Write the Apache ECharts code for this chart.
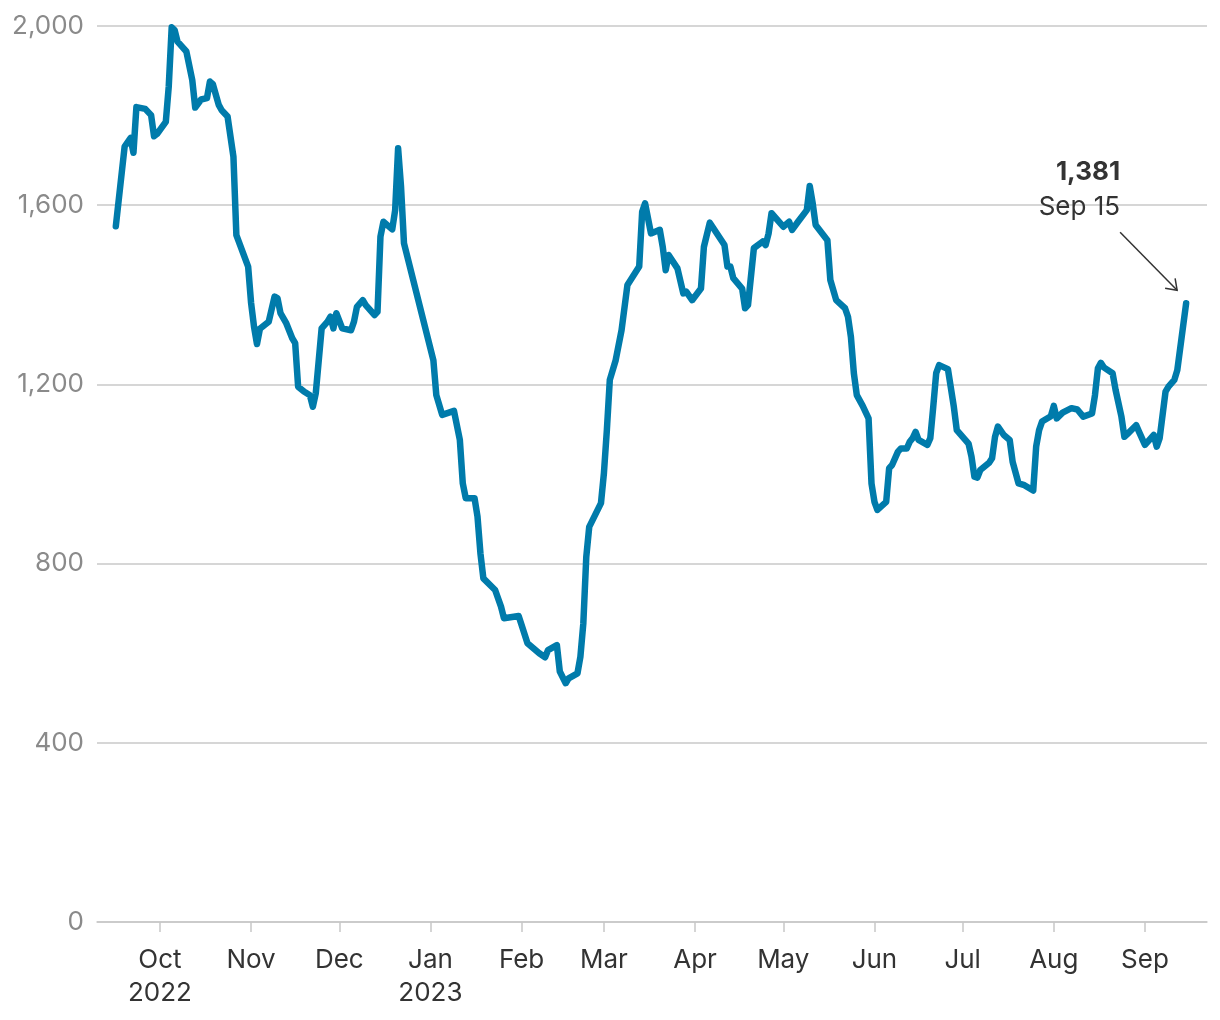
<!DOCTYPE html>
<html>
<head>
<meta charset="utf-8">
<script src="https://cdn.jsdelivr.net/npm/echarts@6/dist/echarts.min.js"></script>
<style>
html,body{margin:0;padding:0;background:#fff;}
#chart{width:1220px;height:1020px;}
</style>
</head>
<body>
<div id="chart"></div>
<script>
// Dates of the line's vertices and their values
var dates = [
'2022-09-16','2022-09-19','2022-09-21','2022-09-22','2022-09-23','2022-09-26','2022-09-28','2022-09-29','2022-09-30',
'2022-10-03','2022-10-04','2022-10-05','2022-10-06','2022-10-07','2022-10-10','2022-10-12','2022-10-13','2022-10-15',
'2022-10-17','2022-10-18','2022-10-19','2022-10-21','2022-10-22','2022-10-24','2022-10-26','2022-10-27','2022-10-31',
'2022-11-01','2022-11-02','2022-11-03','2022-11-04','2022-11-07','2022-11-09','2022-11-10','2022-11-11','2022-11-13',
'2022-11-15','2022-11-16','2022-11-17','2022-11-19','2022-11-21','2022-11-22','2022-11-23','2022-11-25','2022-11-27',
'2022-11-28','2022-11-29','2022-11-30',
'2022-12-02','2022-12-05','2022-12-06','2022-12-07','2022-12-09','2022-12-10','2022-12-13','2022-12-14','2022-12-15',
'2022-12-16','2022-12-19','2022-12-20','2022-12-21','2022-12-22','2022-12-23',
'2023-01-02','2023-01-03','2023-01-05','2023-01-09','2023-01-11','2023-01-12','2023-01-13','2023-01-16','2023-01-17',
'2023-01-18','2023-01-19','2023-01-23','2023-01-25','2023-01-26','2023-01-31',
'2023-02-01','2023-02-03','2023-02-05','2023-02-07','2023-02-09','2023-02-10','2023-02-13','2023-02-14','2023-02-16',
'2023-02-17','2023-02-20','2023-02-21','2023-02-22','2023-02-23','2023-02-24','2023-02-28',
'2023-03-01','2023-03-02','2023-03-03','2023-03-05','2023-03-07','2023-03-09','2023-03-13','2023-03-14','2023-03-15',
'2023-03-17','2023-03-20','2023-03-21','2023-03-22','2023-03-23','2023-03-26','2023-03-28','2023-03-29','2023-03-31',
'2023-04-03','2023-04-04','2023-04-06','2023-04-11','2023-04-12','2023-04-13','2023-04-14','2023-04-17','2023-04-18',
'2023-04-19','2023-04-21','2023-04-24','2023-04-25','2023-04-26','2023-04-27',
'2023-05-01','2023-05-03','2023-05-04','2023-05-06','2023-05-09','2023-05-10','2023-05-11','2023-05-12','2023-05-16',
'2023-05-17','2023-05-19','2023-05-22','2023-05-23','2023-05-24','2023-05-25','2023-05-26','2023-05-28','2023-05-30',
'2023-05-31',
'2023-06-01','2023-06-02','2023-06-05','2023-06-06','2023-06-07','2023-06-09','2023-06-10','2023-06-12','2023-06-13',
'2023-06-14','2023-06-15','2023-06-16','2023-06-19','2023-06-20','2023-06-21','2023-06-22','2023-06-23','2023-06-26',
'2023-06-28','2023-06-29',
'2023-07-01','2023-07-03','2023-07-04','2023-07-05','2023-07-06','2023-07-07','2023-07-10','2023-07-11','2023-07-12',
'2023-07-13','2023-07-15','2023-07-17','2023-07-18','2023-07-20','2023-07-22','2023-07-25','2023-07-26','2023-07-27',
'2023-07-28','2023-07-31',
'2023-08-01','2023-08-02','2023-08-04','2023-08-07','2023-08-09','2023-08-11','2023-08-14','2023-08-15','2023-08-16',
'2023-08-17','2023-08-18','2023-08-21','2023-08-22','2023-08-24','2023-08-25','2023-08-26','2023-08-29','2023-08-30',
'2023-09-01','2023-09-04','2023-09-05','2023-09-06','2023-09-08','2023-09-09','2023-09-11','2023-09-12','2023-09-15'
];
var values = [
1553,1731,1750,1717,1819,1815,1801,1754,1759,
1786,1865,1997,1991,1965,1943,1879,1818,1836,
1839,1876,1870,1824,1812,1798,1708,1533,1463,
1382,1329,1290,1324,1340,1396,1392,1359,1336,
1303,1292,1195,1184,1176,1150,1180,1325,1340,
1351,1325,1359,
1325,1321,1340,1373,1388,1377,1355,1362,1530,
1563,1546,1589,1727,1641,1515,
1254,1176,1132,1141,1076,979,946,946,905,
823,767,741,704,678,683,
663,622,611,600,591,607,618,559,533,
544,555,592,667,815,882,935,
1002,1098,1210,1254,1321,1422,1463,1585,1604,
1537,1545,1507,1455,1489,1459,1403,1407,1388,
1414,1507,1561,1511,1463,1463,1437,1414,1370,
1377,1504,1519,1511,1537,1582,
1552,1563,1545,1563,1589,1643,1604,1556,1522,
1433,1388,1370,1351,1306,1225,1176,1152,1124,
979,
938,920,938,1013,1020,1050,1057,1057,1072,
1080,1094,1076,1065,1080,1150,1225,1243,1234,
1150,1098,
1083,1068,1039,994,992,1009,1025,1035,1083,
1106,1087,1076,1027,979,975,963,1061,1098,
1117,1129,
1152,1124,1137,1147,1144,1128,1135,1176,1236,
1248,1238,1225,1188,1128,1083,1089,1109,1094,
1065,1087,1061,1080,1184,1195,1210,1232,1381
];
var yTicks = [0, 400, 800, 1200, 1600, 2000];
var monthNames = ['Jan','Feb','Mar','Apr','May','Jun','Jul','Aug','Sep','Oct','Nov','Dec'];
var calloutValue = '1,381';
var calloutDate = 'Sep 15';

var seriesData = dates.map(function (d, i) { return [d, values[i]]; });
var DAY = 86400000;
var firstT = new Date(dates[0] + 'T00:00:00').getTime();
var lastT = new Date(dates[dates.length - 1] + 'T00:00:00').getTime();

var FONT = 'Inter, "Libre Franklin", Roboto, sans-serif';
var chart = echarts.init(document.getElementById('chart'), null, {renderer: 'canvas'});

chart.setOption({
  animation: false,
  backgroundColor: '#ffffff',
  grid: {left: 97, right: 13, top: 26, bottom: 98, containLabel: false},
  xAxis: {
    type: 'time',
    min: firstT - 6.4 * DAY,
    max: lastT + 7.1 * DAY,
    minInterval: 28 * DAY,
    maxInterval: 31 * DAY,
    splitLine: {show: false},
    axisLine: {show: true, lineStyle: {color: '#c8c8c8', width: 1.5}},
    axisTick: {show: true, length: 10, lineStyle: {color: '#c8c8c8', width: 1.5}},
    axisLabel: {
      color: '#333333',
      fontFamily: FONT,
      fontSize: 26,
      lineHeight: 33,
      margin: 22,
      hideOverlap: false,
      showMinLabel: false,
      showMaxLabel: false,
      formatter: function (val) {
        var d = new Date(val);
        var m = d.getMonth();
        var s = monthNames[m];
        if (m === 9 && d.getFullYear() === 2022) s += '\n2022';
        if (m === 0) s += '\n' + d.getFullYear();
        return s;
      }
    }
  },
  yAxis: {
    type: 'value',
    min: yTicks[0],
    max: yTicks[yTicks.length - 1],
    interval: yTicks[1] - yTicks[0],
    axisLine: {show: false},
    axisTick: {show: false},
    splitLine: {show: true, lineStyle: {color: '#c8c8c8', width: 1.5}},
    axisLabel: {
      color: '#8a8a8a',
      fontFamily: FONT,
      fontSize: 26,
      margin: 13,
      formatter: function (v) { return v.toLocaleString('en-US'); }
    }
  },
  series: [{
    type: 'line',
    data: seriesData,
    showSymbol: false,
    symbol: 'none',
    lineStyle: {color: '#007bab', width: 6.5, cap: 'round', join: 'round'},
    z: 3
  }]
});

// Callout anchored to the last data point
var p = chart.convertToPixel({seriesIndex: 0}, seriesData[seriesData.length - 1]);
var tx = p[0] - 66, ty = p[1];
chart.setOption({
  graphic: [
    {type: 'text', x: tx, y: ty - 131, style: {text: calloutValue, font: 'bold 26px ' + FONT, fill: '#333333', textAlign: 'right', textVerticalAlign: 'middle'}},
    {type: 'text', x: tx, y: ty - 96, style: {text: calloutDate, font: '26px ' + FONT, fill: '#333333', textAlign: 'right', textVerticalAlign: 'middle'}},
    {type: 'line', shape: {x1: tx, y1: ty - 71, x2: p[0] - 9, y2: p[1] - 13}, style: {stroke: '#333333', lineWidth: 1.5}},
    {type: 'polyline', shape: {points: [[p[0] - 21, p[1] - 15], [p[0] - 9, p[1] - 13], [p[0] - 11, p[1] - 25]]}, style: {stroke: '#333333', lineWidth: 1.5, fill: null}}
  ]
});
</script>
</body>
</html>
